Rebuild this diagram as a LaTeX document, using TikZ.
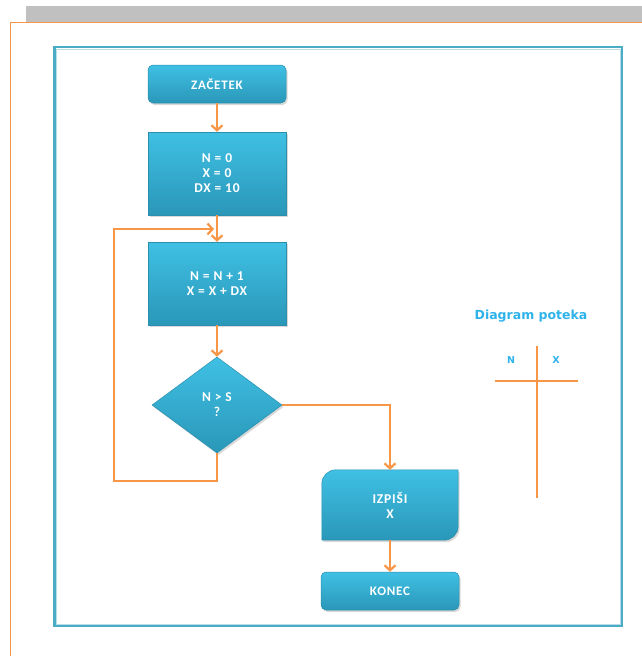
\documentclass[tikz,border=0pt]{standalone}
\usepackage{fontspec}
\setmainfont{Carlito}
\newfontfamily\labelfont{DejaVu Sans}
\newfontfamily\boxfont[LetterSpace=6]{Carlito}
\usetikzlibrary{arrows.meta,shapes.geometric,shadows,calc}
\pgfdeclarelayer{background}
\pgfsetlayers{background,main}

\definecolor{boxtop}{HTML}{3FC0E4}
\definecolor{boxbot}{HTML}{2A97B8}
\definecolor{boxedge}{HTML}{2A8FAD}
\definecolor{flow}{HTML}{F79646}
\definecolor{frameblue}{HTML}{4BACC6}
\definecolor{titleblue}{HTML}{2DB3EA}
\definecolor{bargray}{HTML}{C0C0C0}

\tikzset{
  boxshade/.style={top color=boxtop, bottom color=boxbot, draw=boxedge, line width=0.5pt,
    drop shadow={opacity=0.3, shadow xshift=1.5pt, shadow yshift=-2pt}},
  boxtext/.style={text=white, align=center, font=\boxfont\bfseries\fontsize{13.5}{15}\selectfont},
  procbox/.style={rectangle, boxshade, boxtext, minimum width=138pt, minimum height=83pt, inner sep=0pt},
  termbox/.style={rectangle, rounded corners=5pt, boxshade, boxtext,
    font=\boxfont\bfseries\fontsize{13}{14}\selectfont, minimum width=138pt, minimum height=38pt, inner sep=0pt},
  decbox/.style={diamond, boxshade, boxtext, minimum width=130pt, minimum height=96pt,
    aspect=1.354, inner sep=0pt},
  outbox/.style={rectangle, boxtext, minimum width=136pt, minimum height=70pt, inner sep=0pt},
  flowline/.style={draw=flow, line width=2.4pt, line join=miter},
  flowarrow/.style={flowline, -{Straight Barb[length=5pt,width=11pt,line width=2.2pt]}},
  tablabel/.style={text=titleblue, font=\labelfont\bfseries\fontsize{9.5}{11}\selectfont},
}

\begin{document}
\begin{tikzpicture}[x=1pt,y=-1pt]
  \useasboundingbox (0,0) rectangle (642,656);

  % page header and margin
  \fill[bargray] (26,6) rectangle (642,21.5);
  \draw[flow, line width=1pt] (10,656) -- (10,22) -- (642,22);

  % frame round the flow chart
  \draw[frameblue, line width=2.6pt] (54.5,47) rectangle (622,626);
  \draw[white!60!frameblue, line width=0.8pt] (56.5,49) rectangle (620,624);

  % flow chart blocks
  \node[termbox] (start) at (217,84) {ZAČETEK};
  \node[procbox] (init) at (217,173.5) {N = 0\\X = 0\\DX = 10};
  \node[procbox] (step1) at (217,283.5) {N = N + 1\\X = X + DX};
  \node[decbox] (test) at (217,405) {N > S\\?};
  \node[outbox] (print) at (390,505) {IZPIŠI\\X};
  \node[termbox] (stop) at (390,591) {KONEC};

  % output block: rectangle with top-left and bottom-right corners rounded
  \begin{pgfonlayer}{background}
    \path[boxshade]
      (print.south west) -- ($(print.north west)+(0,14)$)
      .. controls ($(print.north west)+(0,6.3)$) and ($(print.north west)+(6.3,0)$)
      .. ($(print.north west)+(14,0)$)
      -- (print.north east) -- ($(print.south east)+(0,-14)$)
      .. controls ($(print.south east)+(0,-6.3)$) and ($(print.south east)+(-6.3,0)$)
      .. ($(print.south east)+(-14,0)$)
      -- cycle;
  \end{pgfonlayer}

  % connectors
  \coordinate (loopcorner) at (114,481);
  \coordinate (loopin) at (214,229);
  \draw[flowarrow] (start) -- (init);
  \draw[flowarrow] (init) -- (step1);
  \draw[flowarrow] (step1) -- (test);
  \draw[flowarrow] (test.east) -| (print.north);
  \draw[flowarrow] (print) -- (stop);
  \draw[flowarrow] (test.south) |- (loopcorner) |- (loopin);

  % trace table
  \node[text=titleblue, font=\labelfont\bfseries\fontsize{12.5}{14}\selectfont] (title) at (531,316) {Diagram poteka};
  \node[tablabel] (colN) at (511,360) {N};
  \node[tablabel] (colX) at (556,360) {X};
  \coordinate (vtop) at (537,346);
  \coordinate (vbot) at (537,498);
  \coordinate (hleft) at (495,381);
  \coordinate (hright) at (578,381);
  \draw[flowline] (vtop) -- (vbot);
  \draw[flowline] (hleft) -- (hright);
\end{tikzpicture}
\end{document}
